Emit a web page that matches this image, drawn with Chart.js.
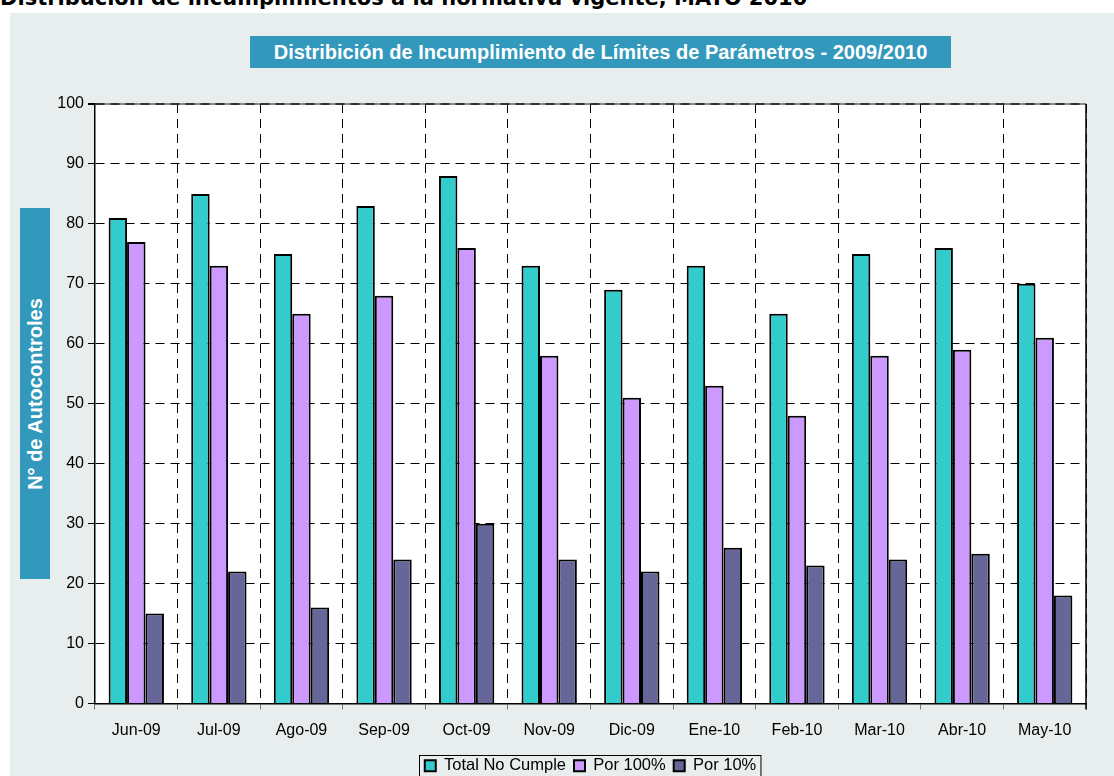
<!DOCTYPE html>
<html>
<head>
<meta charset="utf-8">
<script src="https://cdn.jsdelivr.net/npm/chart.js@4"></script>
<style>
  html, body { margin: 0; padding: 0; background: #fff; overflow: hidden; width: 1114px; height: 776px; position: relative; font-family: "Liberation Sans", Arial, sans-serif; }
  #pageTitle { position: absolute; left: 0; top: -12px; font-family: "DejaVu Sans", Verdana, sans-serif; font-size: 21px; font-weight: bold; line-height: 21px; white-space: nowrap; color: #000; }
  #panel { position: absolute; left: 10px; top: 13px; width: 1104px; height: 763px; background: #e8eded; overflow: hidden; }
  #chartTitle { position: absolute; left: 240px; top: 23px; width: 701px; height: 32px; background: #3298bc; color: #fff; font-weight: bold; font-size: 20px; line-height: 32px; text-align: center; white-space: nowrap; }
  #yTitle { position: absolute; left: 10px; top: 195px; width: 30px; height: 371px; background: #3298bc; }
  #yTitle span { position: absolute; left: 50%; top: 50%; transform: translate(-50%, -50%) rotate(-90deg); color: #fff; font-weight: bold; font-size: 20px; white-space: nowrap; }
  #wrap { position: absolute; left: 0; top: 0; width: 1104px; height: 771px; }
</style>
</head>
<body>
<div id="pageTitle">Distribución de incumplimientos a la normativa vigente, MAYO 2010</div>
<div id="panel">
  <div id="wrap"><canvas id="chart"></canvas></div>
  <div id="chartTitle">Distribición de Incumplimiento de Límites de Parámetros - 2009/2010</div>
  <div id="yTitle"><span>N° de Autocontroles</span></div>
</div>
<script>
const months = ['Jun-09', 'Jul-09', 'Ago-09', 'Sep-09', 'Oct-09', 'Nov-09', 'Dic-09', 'Ene-10', 'Feb-10', 'Mar-10', 'Abr-10', 'May-10'];
const totalNoCumple = [81, 85, 75, 83, 88, 73, 69, 73, 65, 75, 76, 70];
const por100 = [77, 73, 65, 68, 76, 58, 51, 53, 48, 58, 59, 61];
const por10 = [15, 22, 16, 24, 30, 24, 22, 26, 23, 24, 25, 18];

const FONT = '"Liberation Sans", Arial, sans-serif';

// fondo blanco del area, marco y borde de la leyenda
const frame = {
  id: 'frame',
  beforeDraw(chart) {
    const ctx = chart.ctx;
    const a = chart.chartArea;
    ctx.save();
    ctx.fillStyle = '#fff';
    ctx.fillRect(a.left, a.top, a.right - a.left, a.bottom - a.top);
    ctx.strokeStyle = '#888';
    ctx.lineWidth = 2;
    ctx.beginPath(); ctx.moveTo(a.left, a.top); ctx.lineTo(a.right, a.top); ctx.stroke();
    ctx.restore();
  },
  afterDraw(chart) {
    const ctx = chart.ctx;
    const a = chart.chartArea;
    ctx.save();
    ctx.setLineDash([]);
    ctx.lineWidth = 1.5;
    ctx.strokeStyle = '#000';
    ctx.beginPath(); ctx.moveTo(a.right, a.top); ctx.lineTo(a.right, a.bottom + 6); ctx.stroke();

    const boxes = chart.legend.legendHitBoxes;
    if (boxes && boxes.length) {
      const l = Math.min(...boxes.map(b => b.left)) - 6;
      const r = Math.max(...boxes.map(b => b.left + b.width)) + 4;
      const t = boxes[0].top - 3;
      ctx.lineWidth = 1;
      ctx.strokeRect(Math.round(l) + 0.5, Math.round(t) + 0.5, r - l, 40);
    }
    ctx.restore();
  }
};

new Chart(document.getElementById('chart'), {
  type: 'bar',
  data: {
    labels: months,
    datasets: [
      { label: 'Total No Cumple', data: totalNoCumple, backgroundColor: '#33cccc' },
      { label: 'Por 100%', data: por100, backgroundColor: '#cc99ff' },
      { label: 'Por 10%', data: por10, backgroundColor: '#666699' }
    ].map(d => Object.assign(d, { borderColor: '#000', borderWidth: 2, categoryPercentage: 0.67, barPercentage: 1 }))
  },
  options: {
    responsive: true,
    maintainAspectRatio: false,
    animation: false,
    layout: { padding: { left: 35, right: 28, top: 91, bottom: 0 } },
    plugins: {
      title: { display: false },
      tooltip: { enabled: false },
      legend: {
        position: 'bottom',
        fullSize: false,
        labels: {
          color: '#000',
          font: { family: FONT, size: 16.5 },
          boxWidth: 11,
          boxHeight: 11,
          padding: 8
        }
      }
    },
    scales: {
      x: {
        afterFit: s => { s.height = 46; },
        grid: {
          offset: true,
          color: '#000',
          lineWidth: 1,
          tickBorderDash: [],
          tickColor: '#777',
          tickLength: 6
        },
        border: { color: '#000', width: 1.5, dash: [9, 6] },
        ticks: { color: '#000', padding: 11, font: { family: FONT, size: 16 } }
      },
      y: {
        min: 0,
        max: 100,
        afterFit: s => { s.width = 50; },
        grid: {
          color: ctx => ctx.tick && ctx.tick.value === 100 ? '#333' : '#000',
          lineWidth: ctx => ctx.tick && ctx.tick.value === 100 ? 2 : 1,
          tickBorderDash: [],
          tickColor: '#000',
          tickLength: 7
        },
        border: { color: '#000', width: 1.5, dash: [9, 6] },
        ticks: { stepSize: 10, color: '#000', padding: 4, font: { family: FONT, size: 16 } }
      }
    }
  },
  plugins: [frame]
});
</script>
</body>
</html>
